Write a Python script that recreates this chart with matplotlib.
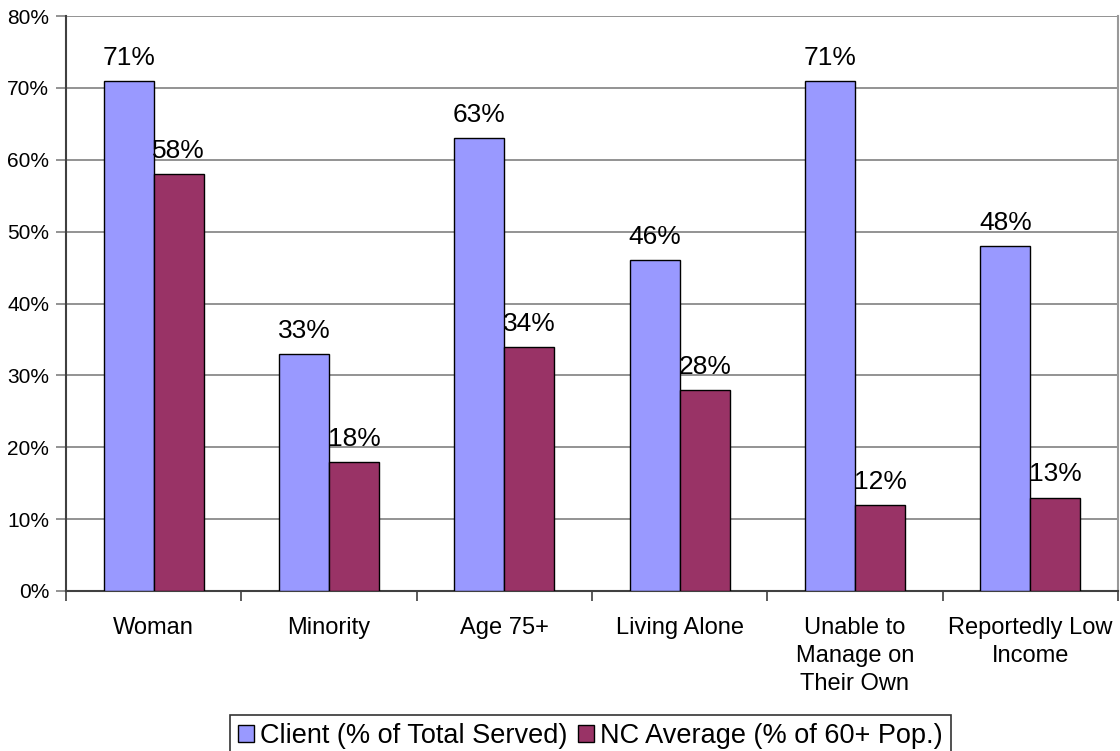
import numpy as np
import matplotlib
matplotlib.use("Agg")
import matplotlib.pyplot as plt
from matplotlib.ticker import PercentFormatter, FixedLocator

plt.rcParams['font.family'] = ['Liberation Sans', 'DejaVu Sans']

categories = ["Woman", "Minority", "Age 75+", "Living Alone",
              "Unable to\nManage on\nTheir Own", "Reportedly Low\nIncome"]
client_pct = [71, 33, 63, 46, 71, 48]
nc_avg_pct = [58, 18, 34, 28, 12, 13]
series_names = ["Client (% of Total Served)", "NC Average (% of 60+ Pop.)"]

BLUE = "#9999FF"
PLUM = "#993366"
GRID = "#808080"

fig = plt.figure(figsize=(11.2, 7.51), dpi=100)
ax = fig.add_axes([66 / 1120, 160 / 751, 1052 / 1120, 575 / 751])

x = np.arange(len(categories))
w = 0.286
b1 = ax.bar(x - w / 2, client_pct, w, color=BLUE, edgecolor="black", linewidth=1, label=series_names[0], zorder=3)
b2 = ax.bar(x + w / 2, nc_avg_pct, w, color=PLUM, edgecolor="black", linewidth=1, label=series_names[1], zorder=3)

for bars in (b1, b2):
    for rect in bars:
        h = rect.get_height()
        ax.annotate(f"{h:.0f}%", (rect.get_x() + rect.get_width() / 2, h),
                    xytext=(0, 8), textcoords="offset points",
                    ha="center", va="bottom", fontsize=19, zorder=4)

ax.set_xlim(-0.5, len(categories) - 0.5)
ax.set_ylim(0, 80)
ax.yaxis.set_major_locator(FixedLocator(np.arange(0, 81, 10)))
ax.yaxis.set_major_formatter(PercentFormatter(decimals=0))
ax.yaxis.grid(True, color=GRID, linewidth=1.2, zorder=0)

# category labels centred, ticks on the group boundaries
ax.set_xticks(x)
ax.set_xticklabels(categories, fontsize=17, linespacing=1.35)
ax.tick_params(axis="x", length=0, pad=19)
ax.set_xticks(np.arange(-0.5, len(categories), 1), minor=True)
ax.tick_params(axis="x", which="minor", length=7, color="#404040", width=1.2)
ax.tick_params(axis="y", length=7, color=GRID, width=1.2, labelsize=15, pad=5)

ax.spines["top"].set_visible(False)
ax.spines["left"].set_color("#404040")
ax.spines["left"].set_linewidth(1.5)
ax.spines["bottom"].set_color("#404040")
ax.spines["bottom"].set_linewidth(1.5)
ax.spines["right"].set_color("#999999")
ax.spines["right"].set_linewidth(1.5)

leg = fig.legend(handles=[b1, b2], loc="upper center", bbox_to_anchor=(0.527, 36 / 751),
                 ncol=2, fontsize=19.5, frameon=True, fancybox=False, edgecolor="black",
                 handlelength=0.6, handleheight=0.6, handletextpad=0.22,
                 columnspacing=0.37, borderpad=0.3, borderaxespad=0)
leg.get_frame().set_linewidth(1.2)

fig.savefig("out.png", dpi=100)
